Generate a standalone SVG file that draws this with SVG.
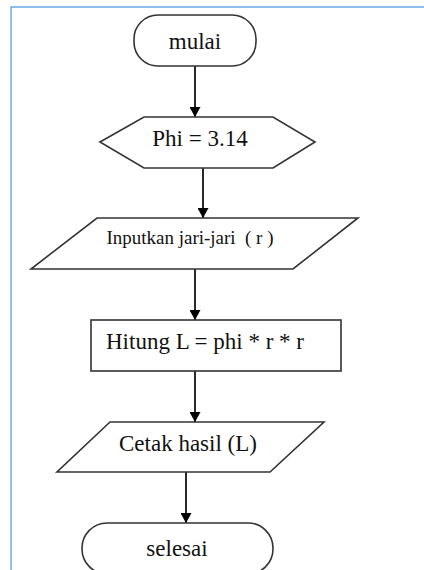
<svg xmlns="http://www.w3.org/2000/svg" width="424" height="570" viewBox="0 0 424 570">
  <defs>
    <marker id="arrow" markerWidth="10" markerHeight="11" refX="10" refY="5.5" orient="auto" markerUnits="userSpaceOnUse">
      <path d="M0,0 L10,5.5 L0,11 Z" fill="#000"/>
    </marker>
    <style>
      .shape { fill: #fff; stroke: #333; stroke-width: 1.6; }
      .label { font-family: "Liberation Serif", "Times New Roman", serif; fill: #111; text-anchor: middle; font-size: 23px; }
      .edge { stroke: #111; stroke-width: 1.8; fill: none; marker-end: url(#arrow); }
      .frame { stroke: #6aa6e8; stroke-width: 1.4; fill: none; }
    </style>
  </defs>

  <rect width="424" height="570" fill="#fff"/>
  <!-- page frame -->
  <path class="frame" d="M11,570 V7 H424"/>

  <!-- connectors -->
  <g id="connectors">
    <line class="edge" x1="195" y1="66" x2="195" y2="117"/>
    <line class="edge" x1="203" y1="168" x2="203" y2="218"/>
    <line class="edge" x1="195" y1="269" x2="195" y2="320"/>
    <line class="edge" x1="195" y1="371" x2="195" y2="422"/>
    <line class="edge" x1="186" y1="472" x2="186" y2="523"/>
  </g>

  <g id="mulai">
    <rect class="shape" x="134" y="15" width="122" height="51" rx="24" ry="24"/>
    <text class="label" x="195" y="49">mulai</text>
  </g>

  <g id="phi">
    <polygon class="shape" points="100,142 144,117 273,117 315,142 273,168 144,168"/>
    <text class="label" x="200" y="146">Phi = 3.14</text>
  </g>

  <g id="input-r">
    <polygon class="shape" points="97,218 358,218 293,269 31,269"/>
    <text class="label" x="190" y="244" style="font-size:19.5px; white-space:pre" textLength="167" lengthAdjust="spacingAndGlyphs">Inputkan jari-jari  ( r )</text>
  </g>

  <g id="hitung">
    <rect class="shape" x="91" y="320" width="250" height="51"/>
    <text class="label" x="106" y="349" style="text-anchor:start">Hitung L = phi * r * r</text>
  </g>

  <g id="cetak">
    <polygon class="shape" points="110,422 324,422 270,472 57,472"/>
    <text class="label" x="188" y="451">Cetak hasil (L)</text>
  </g>

  <g id="selesai">
    <rect class="shape" x="82" y="523" width="191" height="51" rx="25" ry="25"/>
    <text class="label" x="177" y="556">selesai</text>
  </g>
</svg>
